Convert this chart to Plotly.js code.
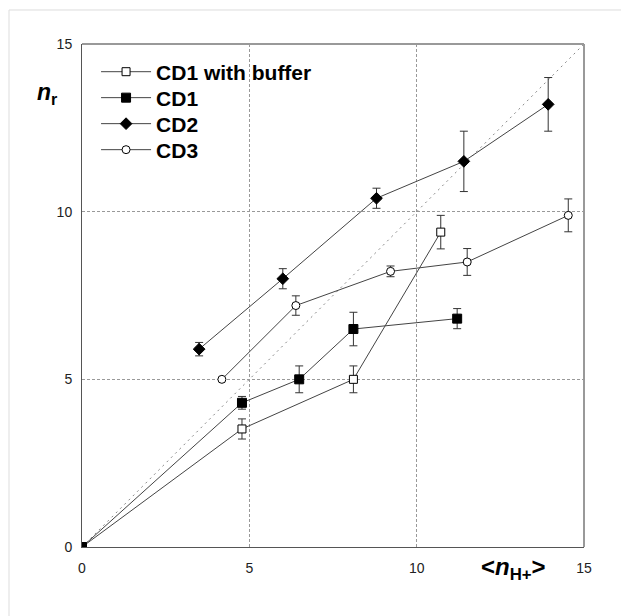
<!DOCTYPE html>
<html>
<head>
<meta charset="utf-8">
<script src="https://cdn.plot.ly/plotly-3.0.1.min.js"></script>
<style>html,body{margin:0;padding:0;background:#fff;}</style>
</head>
<body>
<div id="chart" style="width:621px;height:616px;"></div>
<script>
// Series names
const seriesNames = ["CD1 with buffer", "CD1", "CD2", "CD3"];

// CD1 with buffer
const xBuf = [0, 4.78, 8.11, 10.72];
const yBuf = [0, 3.52, 5.0, 9.39];
const eBuf = [0, 0.3, 0.4, 0.5];

// CD1
const xCD1 = [0, 4.78, 6.49, 8.11, 11.21];
const yCD1 = [0, 4.3, 5.0, 6.5, 6.81];
const eCD1 = [0, 0.19, 0.4, 0.5, 0.3];

// CD2
const xCD2 = [3.5, 6.0, 8.8, 11.41, 13.93];
const yCD2 = [5.9, 8.0, 10.4, 11.5, 13.2];
const eCD2 = [0.2, 0.3, 0.3, 0.9, 0.8];

// CD3
const xCD3 = [4.18, 6.39, 9.22, 11.51, 14.53];
const yCD3 = [5.0, 7.2, 8.22, 8.5, 9.89];
const eCD3 = [0, 0.29, 0.16, 0.4, 0.49];

// Reference diagonal y = x
const diagX = [0, 15];
const diagY = [0, 15];

// Axis ticks
const tickVals = [0, 5, 10, 15];
const tickText = ["0", "5", "10", "15"];

const FONT = "Liberation Sans, Arial, sans-serif";
const lineCol = "#444";
const errStyle = (arr) => ({type: "data", array: arr, visible: true, color: "#333", thickness: 1, width: 4});

const traces = [
  {x: diagX, y: diagY, mode: "lines", showlegend: false, hoverinfo: "skip",
   line: {color: "#888", width: 1, dash: "2px,4px"}},
  {x: xBuf, y: yBuf, name: seriesNames[0], legend: "legend", mode: "lines+markers", error_y: errStyle(eBuf),
   line: {color: lineCol, width: 1},
   marker: {symbol: "square", size: 8, color: "#fff", line: {color: "#000", width: 1}}},
  {x: xCD1, y: yCD1, name: seriesNames[1], legend: "legend2", mode: "lines+markers", error_y: errStyle(eCD1),
   line: {color: lineCol, width: 1},
   marker: {symbol: "square", size: 9, color: "#000", line: {color: "#000", width: 1}}},
  {x: xCD2, y: yCD2, name: seriesNames[2], legend: "legend3", mode: "lines+markers", error_y: errStyle(eCD2),
   line: {color: lineCol, width: 1},
   marker: {symbol: "diamond", size: 9, color: "#000", line: {color: "#000", width: 1}}},
  {x: xCD3, y: yCD3, name: seriesNames[3], legend: "legend4", mode: "lines+markers", error_y: errStyle(eCD3),
   line: {color: lineCol, width: 1},
   marker: {symbol: "circle", size: 8, color: "#fff", line: {color: "#000", width: 1}}}
];

const axisCommon = {
  range: [0, 15], tickvals: tickVals, ticktext: tickText, ticks: "",
  showgrid: true, gridcolor: "#999", gridwidth: 1, griddash: "3px,2px",
  zeroline: false, showline: true, linecolor: "#555", linewidth: 1,
  tickfont: {family: FONT, size: 14, color: "#222"},
  fixedrange: true
};

const legendBase = (y) => ({
  x: 0.028, y: y, xanchor: "left", yanchor: "top",
  bgcolor: "rgba(0,0,0,0)", borderwidth: 0,
  font: {family: FONT, size: 21, color: "#000", weight: "bold"},
  itemwidth: 50
});

const layout = {
  width: 621, height: 616,
  margin: {l: 82, r: 37, t: 44, b: 69},
  paper_bgcolor: "#fff", plot_bgcolor: "#fff",
  font: {family: FONT, color: "#000"},
  xaxis: Object.assign({}, axisCommon, {ticklabelstandoff: 8}),
  yaxis: Object.assign({}, axisCommon, {ticklabelstandoff: 6}),
  showlegend: true,
  legend: legendBase(0.985),
  legend2: legendBase(0.9334),
  legend3: legendBase(0.8817),
  legend4: legendBase(0.8300),
  shapes: [
    {type: "rect", xref: "paper", yref: "paper", x0: -0.1454, x1: 1.09, y0: -0.15, y1: 1.0676,
     line: {color: "#ddd", width: 1}, fillcolor: "rgba(0,0,0,0)", layer: "below"},
    {type: "line", xref: "paper", yref: "paper", x0: 0, x1: 1, y0: 1, y1: 1,
     line: {color: "#999", width: 2}},
    {type: "line", xref: "paper", yref: "paper", x0: 1, x1: 1, y0: 0, y1: 1,
     line: {color: "#999", width: 2}}
  ],
  annotations: [
    {xref: "paper", yref: "paper", x: -0.094, y: 0.902, xanchor: "left", yanchor: "middle",
     showarrow: false, text: "<b><i>n</i><sub>r</sub></b>",
     font: {family: FONT, size: 23, color: "#000"}},
    {xref: "paper", yref: "paper", x: 0.791, y: -0.042, xanchor: "left", yanchor: "middle",
     showarrow: false, text: "<b>&lt;<i>n</i><sub>H+</sub>&gt;</b>",
     font: {family: FONT, size: 24, color: "#000"}}
  ]
};

Plotly.newPlot("chart", traces, layout, {displayModeBar: false, staticPlot: true});
</script>
</body>
</html>
